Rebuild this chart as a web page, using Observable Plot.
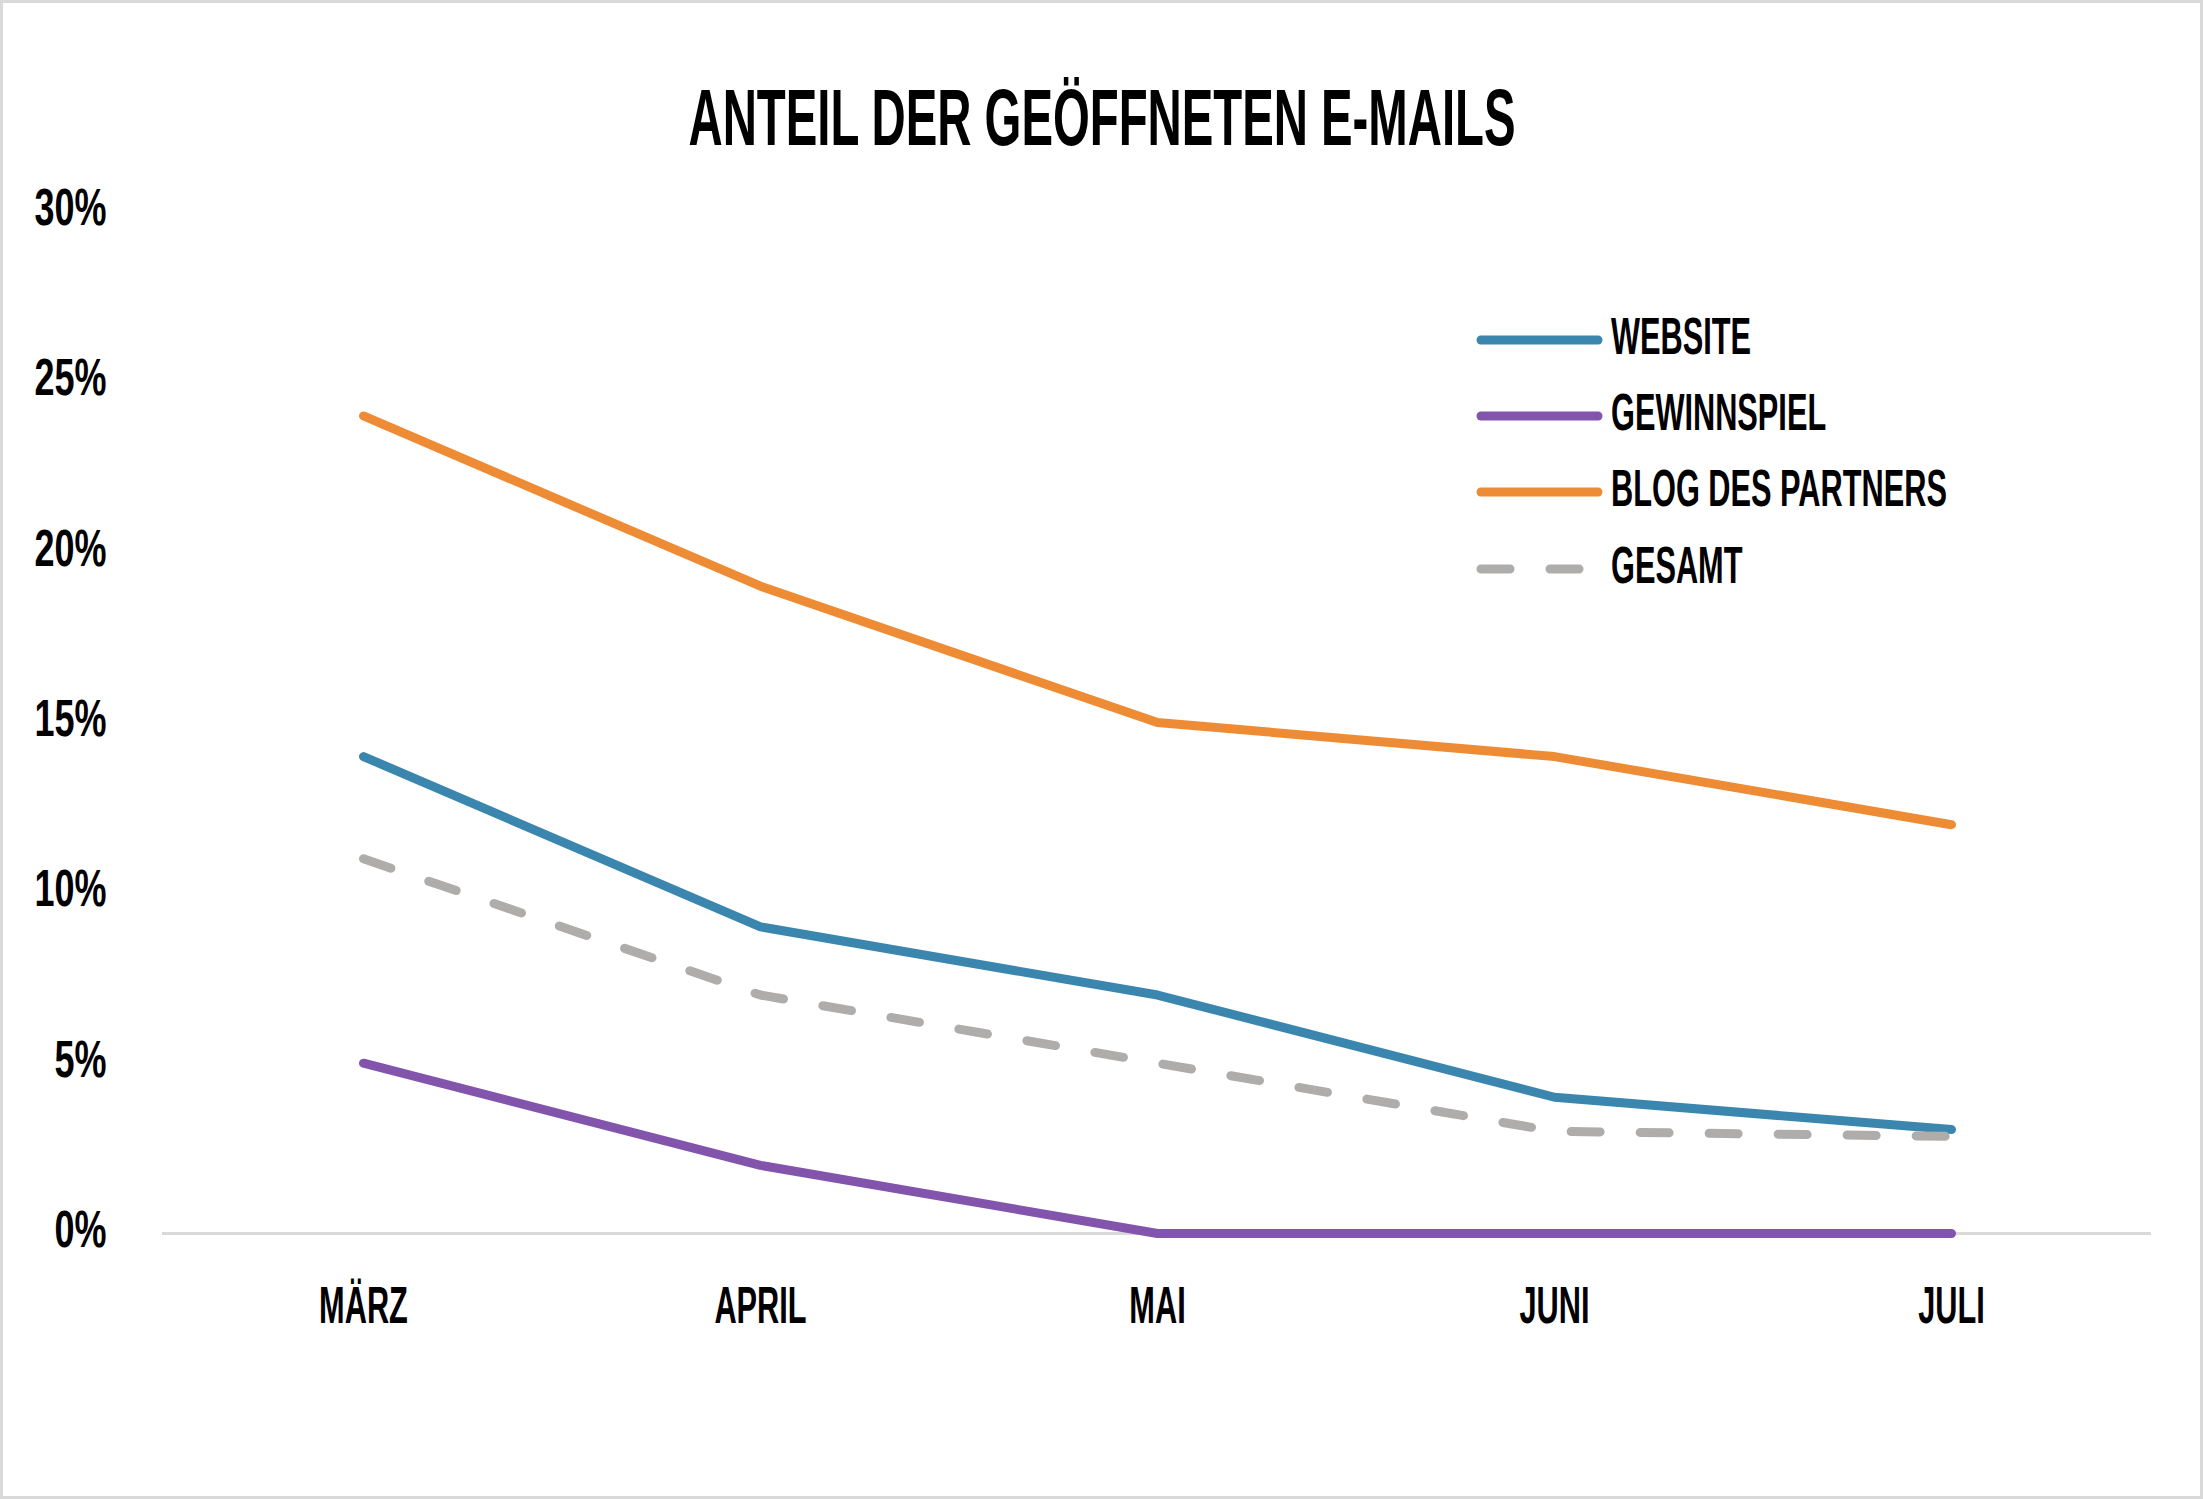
<!DOCTYPE html>
<html>
<head>
<meta charset="utf-8">
<script src="https://cdn.jsdelivr.net/npm/d3@7"></script>
<script src="https://cdn.jsdelivr.net/npm/@observablehq/plot@0.6"></script>
<style>
  html, body { margin: 0; padding: 0; background: #fff; }
  #page { position: relative; width: 2203px; height: 1499px; box-sizing: border-box; border: 3px solid #d9d9d9; background: #fff; overflow: hidden; }
  #title { position: relative; height: 167px; }
  #title span { position: absolute; left: 50%; top: 75px; white-space: nowrap; font-weight: bold; font-size: 80px; line-height: 80px; color: #000; transform-origin: center; }
  #legend { position: absolute; left: 0; top: 0; pointer-events: none; }
  #chart svg { display: block; }
</style>
</head>
<body>
<div id="page">
  <div id="title"><span id="titleText">ANTEIL DER GEÖFFNETEN E-MAILS</span></div>
  <div id="chart"></div>
</div>
<script>
// ---- data ----
const months = ["MÄRZ", "APRIL", "MAI", "JUNI", "JULI"];
const website = [14, 9, 7, 4, 3.05];
const gewinnspiel = [5, 2, 0, 0, 0];
const blog = [24, 19, 15, 14, 12];
const gesamt = [11, 7, 5, 3, 2.85];
const seriesNames = ["WEBSITE", "GEWINNSPIEL", "BLOG DES PARTNERS", "GESAMT"];
const yTicks = [0, 5, 10, 15, 20, 25, 30];

// ---- styles ----
const seriesColors = ["#3b86ae", "#8354ac", "#ee8c36", "#afacac"];
const seriesDash = [null, null, null, "29,40"];
const FONT = '"Liberation Sans Narrow", "Liberation Sans", Arial, sans-serif';

// condensation factor to approximate the very narrow display face
const ctx = document.createElement("canvas").getContext("2d");
ctx.font = `bold 52px ${FONT}`;
const k = 336 / ctx.measureText("BLOG DES PARTNERS").width;
const kNum = k * 1.17;

const titleEl = document.getElementById("titleText");
titleEl.style.fontFamily = FONT;
titleEl.style.transform = `translateX(-50%) scaleX(${k})`;

const seriesValues = [website, gewinnspiel, blog, gesamt];
const rows = [];
seriesNames.forEach((s, si) => months.forEach((m, mi) => rows.push({series: s, month: m, value: seriesValues[si][mi]})));

const lineMarks = seriesNames.map((s, si) => Plot.line(rows.filter(d => d.series === s), {
  x: "month", y: "value",
  stroke: seriesColors[si], strokeWidth: 9,
  strokeLinecap: "round", strokeLinejoin: "round",
  strokeDasharray: seriesDash[si] || undefined
}));

const chart = Plot.plot({
  width: 2197,
  height: 1326,
  marginTop: 41,
  marginBottom: 263,
  marginLeft: 159,
  marginRight: 49,
  style: { fontFamily: FONT, fontSize: "52px", fontWeight: "bold", color: "#000", background: "transparent", overflow: "visible" },
  x: { type: "point", domain: months, padding: 0.5 },
  y: { domain: [0, 30] },
  marks: [
    Plot.axisX({ tickSize: 0, tickPadding: 53, label: null, fill: "#000" }),
    Plot.axisY({ ticks: yTicks, tickFormat: d => d + "%", tickSize: 0, tickPadding: 56, label: null, dy: -3, fill: "#000" }),
    Plot.ruleY([0], { stroke: "#d9d9d9", strokeWidth: 3 }),
    ...lineMarks
  ]
});
document.getElementById("chart").appendChild(chart);

// condense text horizontally around its anchor
function condense(sel, factor) {
  sel.each(function () {
    const x = parseFloat(this.getAttribute("x")) || 0;
    const t = this.getAttribute("transform") || "";
    this.setAttribute("transform", `${t} translate(${x},0) scale(${factor},1) translate(${-x},0)`.trim());
  });
}
const yLabels = d3.select(chart).selectAll("g[aria-label='y-axis tick label'] text");
yLabels.classed("ynum", true);
condense(yLabels, kNum);
condense(d3.select(chart).selectAll("text:not(.ynum)"), k);

// legend (page coordinates minus border)
const legend = d3.select("#page").append("svg")
  .attr("id", "legend").attr("width", 2197).attr("height", 1493);
const legendY = [337, 413, 489, 566];
seriesNames.forEach((s, i) => {
  legend.append("line")
    .attr("x1", 1478).attr("x2", 1595)
    .attr("y1", legendY[i]).attr("y2", legendY[i])
    .attr("stroke", seriesColors[i]).attr("stroke-width", 9)
    .attr("stroke-linecap", "round")
    .attr("stroke-dasharray", seriesDash[i]);
  legend.append("text")
    .attr("x", 1608).attr("y", legendY[i] + 14)
    .attr("font-family", FONT).attr("font-size", 52).attr("font-weight", "bold")
    .attr("fill", "#000")
    .text(s);
});
condense(legend.selectAll("text"), k);
</script>
</body>
</html>
